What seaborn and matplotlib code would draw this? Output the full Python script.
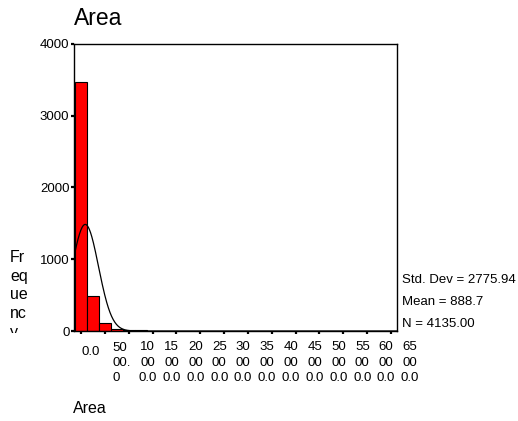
import numpy as np
import pandas as pd
import matplotlib
matplotlib.use("Agg")
import matplotlib.pyplot as plt
import seaborn as sns
from matplotlib.transforms import Bbox, TransformedBbox, ScaledTranslation, blended_transform_factory

# Histogram of Area: bin centres (width 2500) and frequencies
bin_centers = [0, 2500, 5000, 7500, 10000, 12500, 15000, 17500, 20000, 22500,
               25000, 27500, 30000, 32500, 35000, 37500, 40000, 42500, 45000,
               47500, 50000, 52500, 55000, 57500, 60000, 62500, 65000]
counts = [3473, 486, 110, 28, 10, 8, 4, 4, 2, 3,
          1, 1, 0, 1, 0, 0, 0, 2, 0,
          1, 0, 0, 0, 1, 0, 0, 0]
bin_width = 2500

# Summary statistics shown beside the plot
mean_area = 888.7
sd_area = 2775.94

x_ticks = [0, 5000, 10000, 15000, 20000, 25000, 30000, 35000, 40000,
           45000, 50000, 55000, 60000, 65000]
x_tick_labels = ["0.0", "50\n00.\n0", "10\n00\n0.0", "15\n00\n0.0", "20\n00\n0.0",
                 "25\n00\n0.0", "30\n00\n0.0", "35\n00\n0.0", "40\n00\n0.0",
                 "45\n00\n0.0", "50\n00\n0.0", "55\n00\n0.0", "60\n00\n0.0",
                 "65\n00\n0.0"]
y_ticks = [0, 1000, 2000, 3000, 4000]
y_tick_labels = ["0", "1000", "2000", "3000", "4000"]

W, H, DPI = 518, 421, 100

sns.set_theme(style="white")
plt.rcParams["font.family"] = ["Liberation Sans", "DejaVu Sans"]
plt.rcParams["text.color"] = "black"
plt.rcParams["axes.edgecolor"] = "black"
plt.rcParams["xtick.color"] = "black"
plt.rcParams["ytick.color"] = "black"

fig = plt.figure(figsize=(W / DPI, H / DPI), dpi=DPI)
fig.patch.set_facecolor("white")


def px_rect(left, top, right, bottom):
    return [left / W, 1 - bottom / H, (right - left) / W, (bottom - top) / H]


def fx(px):
    return px / W


def fy(py):
    return 1 - py / H


ax = fig.add_axes(px_rect(74, 44, 397, 331))

df = pd.DataFrame({"Area": bin_centers, "Frequency": counts})
lo_edge = bin_centers[0] - bin_width / 2
hi_edge = bin_centers[-1] + bin_width / 2
sns.histplot(data=df, x="Area", weights="Frequency", binwidth=bin_width,
             binrange=(lo_edge, hi_edge), color="#ff0000", edgecolor="black",
             linewidth=0.8, alpha=1.0, ax=ax)

# Normal curve scaled to the histogram
x_lo, x_hi = -1468, 66258
n_total = sum(counts)
grid = np.linspace(x_lo, x_hi, 800)
curve = n_total * bin_width / (sd_area * np.sqrt(2 * np.pi)) * np.exp(-0.5 * ((grid - mean_area) / sd_area) ** 2)
sns.lineplot(x=grid, y=curve, color="black", linewidth=0.9, ax=ax)

ax.set_xlim(x_lo, x_hi)
ax.set_ylim(0, 4000)
ax.set_xlabel("")
ax.set_ylabel("")
for s in ax.spines.values():
    s.set_visible(True)
    s.set_color("black")
    s.set_linewidth(1.0)

ax.set_yticks(y_ticks)
ax.set_yticklabels(y_tick_labels)
ax.tick_params(axis="y", left=True, length=2.5, width=1.6, pad=0.8, labelsize=9.5, direction="out")
ax.set_xticks(x_ticks)
ax.set_xticklabels([])
ax.tick_params(axis="x", bottom=True, length=2.5, width=1.6, direction="out")

# Wrapped x tick labels, set off to the right of each tick
base = blended_transform_factory(ax.transData, fig.transFigure)
for i, (v, lab) in enumerate(zip(x_ticks, x_tick_labels)):
    if i == 0:
        dx, top, malign = 10, 346, "center"
    elif i == 1:
        dx, top, malign = 17, 342, "left"
    else:
        dx, top, malign = 19, 341.5, "center"
    tr = base + ScaledTranslation(dx / DPI, 0, fig.dpi_scale_trans)
    fig.text(v, fy(top), lab, transform=tr, ha="center", va="top",
             multialignment=malign, fontsize=9.5, linespacing=1.36)

# Title and axis titles
fig.text(fx(74), fy(25), "Area", fontsize=16.5, ha="left", va="baseline")
fig.text(fx(73), fy(413), "Area", fontsize=11.5, ha="left", va="baseline")
ylab = fig.text(fx(10), fy(250), "Fr\neq\nue\nnc\ny", fontsize=11.5,
                ha="left", va="top", multialignment="left", linespacing=1.31)
ylab.set_clip_on(True)
ylab.set_clip_box(TransformedBbox(Bbox([[0, fy(332.5)], [fx(70), 1]]), fig.transFigure))

# Summary statistics
stats = [f"Std. Dev = {sd_area:.2f}", f"Mean = {mean_area:.1f}", f"N = {n_total:.2f}"]
for line, base_y in zip(stats, [283, 305, 327]):
    fig.text(fx(402), fy(base_y), line, fontsize=9.5, ha="left", va="baseline")

fig.savefig("out.png", dpi=DPI, facecolor="white")
